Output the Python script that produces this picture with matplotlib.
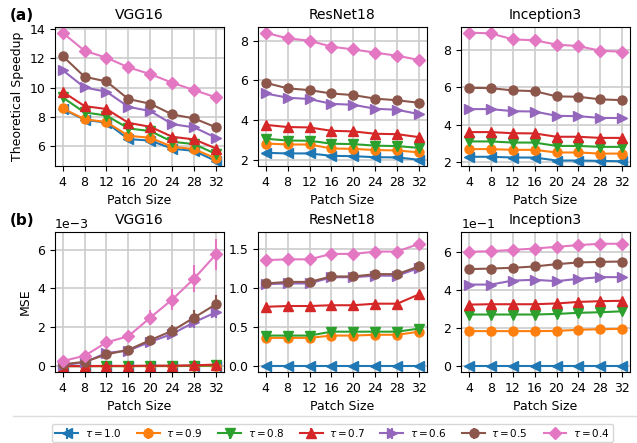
import matplotlib
matplotlib.use('Agg')
import matplotlib.pyplot as plt
import numpy as np
from matplotlib.lines import Line2D

# patch sizes and thresholds
patch = [4, 8, 12, 16, 20, 24, 28, 32]
taus = ['1.0', '0.9', '0.8', '0.7', '0.6', '0.5', '0.4']
markers = ['<', 'o', 'v', '^', '>', 'o', 'D']
colors = ['tab:blue', 'tab:orange', 'tab:green', 'tab:red', 'tab:purple', 'tab:brown', 'tab:pink']

# theoretical speedup
vgg_speed = [
    [8.55, 7.82, 7.62, 6.50, 6.40, 5.85, 5.70, 5.00],
    [8.59, 7.86, 7.66, 6.73, 6.59, 5.98, 5.82, 5.18],
    [9.34, 8.32, 8.11, 7.23, 7.05, 6.32, 6.16, 5.48],
    [9.73, 8.75, 8.55, 7.61, 7.34, 6.66, 6.48, 5.86],
    [11.2, 10.02, 9.73, 8.70, 8.41, 7.52, 7.30, 6.59],
    [12.16, 10.75, 10.43, 9.23, 8.91, 8.18, 7.91, 7.30],
    [13.75, 12.52, 12.05, 11.39, 10.93, 10.34, 9.84, 9.34],
]
resnet_speed = [
    [2.35, 2.32, 2.32, 2.20, 2.18, 2.13, 2.12, 2.00],
    [2.82, 2.77, 2.77, 2.57, 2.55, 2.49, 2.47, 2.37],
    [3.06, 2.97, 2.96, 2.81, 2.79, 2.71, 2.69, 2.60],
    [3.76, 3.65, 3.63, 3.46, 3.43, 3.31, 3.29, 3.14],
    [5.34, 5.13, 5.06, 4.82, 4.77, 4.57, 4.52, 4.30],
    [5.88, 5.60, 5.51, 5.34, 5.26, 5.08, 5.00, 4.87],
    [8.40, 8.12, 8.00, 7.70, 7.56, 7.40, 7.24, 7.03],
]
incep_speed = [
    [2.29, 2.29, 2.25, 2.25, 2.09, 2.09, 2.07, 2.05],
    [2.70, 2.70, 2.66, 2.66, 2.52, 2.52, 2.46, 2.46],
    [3.11, 3.11, 3.05, 3.05, 2.87, 2.87, 2.82, 2.82],
    [3.61, 3.61, 3.55, 3.54, 3.36, 3.36, 3.30, 3.30],
    [4.84, 4.84, 4.73, 4.71, 4.48, 4.46, 4.37, 4.36],
    [5.98, 5.96, 5.84, 5.80, 5.52, 5.50, 5.36, 5.32],
    [8.93, 8.89, 8.57, 8.52, 8.29, 8.21, 7.96, 7.91],
]

# MSE
vgg_mse = np.array([
    [0.0, 0.0, 0.0, 0.0, 0.0, 0.0, 0.0, 0.0],
    [0.0, 0.0, 0.0, 0.0, 0.0, 0.0, 0.01, 0.02],
    [0.0, 0.0, 0.0, 0.0, 0.01, 0.01, 0.02, 0.04],
    [0.0, 0.0, 0.01, 0.01, 0.02, 0.02, 0.04, 0.08],
    [0.05, 0.19, 0.68, 0.80, 1.25, 1.66, 2.26, 2.78],
    [0.09, 0.22, 0.60, 0.84, 1.34, 1.82, 2.50, 3.19],
    [0.26, 0.53, 1.22, 1.54, 2.50, 3.43, 4.51, 5.76],
]) * 1e-3
vgg_err = np.array([
    [0, 0, 0, 0, 0, 0, 0, 0],
    [0, 0, 0, 0, 0, 0, 0.01, 0.01],
    [0, 0, 0, 0, 0, 0.01, 0.01, 0.02],
    [0, 0, 0, 0.01, 0.01, 0.01, 0.02, 0.03],
    [0.03, 0.05, 0.1, 0.12, 0.18, 0.22, 0.3, 0.3],
    [0.03, 0.05, 0.08, 0.1, 0.18, 0.3, 0.4, 0.45],
    [0.05, 0.1, 0.2, 0.25, 0.4, 0.55, 0.7, 0.8],
]) * 1e-3
resnet_mse = [
    [0.0, 0.0, 0.0, 0.0, 0.0, 0.0, 0.0, 0.0],
    [0.36, 0.36, 0.36, 0.39, 0.39, 0.40, 0.40, 0.44],
    [0.39, 0.39, 0.39, 0.44, 0.44, 0.44, 0.44, 0.48],
    [0.76, 0.77, 0.77, 0.78, 0.78, 0.80, 0.80, 0.92],
    [1.05, 1.06, 1.06, 1.14, 1.14, 1.16, 1.16, 1.26],
    [1.06, 1.08, 1.08, 1.15, 1.15, 1.18, 1.18, 1.28],
    [1.36, 1.37, 1.37, 1.44, 1.44, 1.47, 1.47, 1.57],
]
incep_mse = np.array([
    [0.0, 0.0, 0.0, 0.0, 0.0, 0.0, 0.0, 0.0],
    [1.84, 1.84, 1.84, 1.84, 1.85, 1.91, 1.94, 1.96],
    [2.71, 2.71, 2.71, 2.71, 2.74, 2.80, 2.83, 2.88],
    [3.23, 3.25, 3.25, 3.25, 3.29, 3.37, 3.41, 3.43],
    [4.28, 4.28, 4.49, 4.53, 4.46, 4.58, 4.67, 4.67],
    [5.09, 5.12, 5.16, 5.23, 5.35, 5.44, 5.47, 5.49],
    [6.00, 6.03, 6.10, 6.17, 6.26, 6.35, 6.42, 6.42],
]) * 0.1

fig = plt.figure(figsize=(6.37, 4.43), dpi=100)

lefts = [0.0863, 0.405, 0.724]
w = 0.265
top_axes = [fig.add_axes([l, 0.625, w, 0.314]) for l in lefts]
bot_axes = [fig.add_axes([l, 0.160, w, 0.316]) for l in lefts]

titles = ['VGG16', 'ResNet18', 'Inception3']
speeds = [vgg_speed, resnet_speed, incep_speed]
mses = [vgg_mse, resnet_mse, incep_mse]
errs = [vgg_err, np.zeros((7, 8)), np.zeros((7, 8))]

handles = []
for j in range(3):
    ax = top_axes[j]
    for i in range(7):
        h = ax.errorbar(patch, speeds[j][i], yerr=np.zeros(8), marker=markers[i],
                        color=colors[i], ms=6.5, lw=1.5, label=r'$\tau=$' + taus[i])
        if j == 0:
            handles.append(h)
    ax2 = bot_axes[j]
    for i in range(7):
        ax2.errorbar(patch, mses[j][i], yerr=errs[j][i], marker=markers[i],
                     color=colors[i], ms=6.5, lw=1.5)

for ax in top_axes + bot_axes:
    ax.set_xticks(patch)
    ax.grid(True, color='#cccccc', lw=1.2)
    ax.set_axisbelow(True)
    ax.tick_params(labelsize=9)
    ax.set_xlabel('Patch Size', fontsize=9)
for j, ax in enumerate(top_axes + bot_axes):
    ax.set_title(titles[j % 3], fontsize=10)

top_axes[0].set_ylabel('Theoretical Speedup', fontsize=9)
bot_axes[0].set_ylabel('MSE', fontsize=9)
top_axes[0].set_ylim(4.66, 14.14)
top_axes[1].set_ylim(1.68, 8.69)
top_axes[2].set_ylim(1.79, 9.23)
bot_axes[0].set_ylim(-0.31e-3, 6.9e-3)
bot_axes[1].set_ylim(-0.08, 1.72)
bot_axes[2].set_ylim(-0.031, 0.703)
bot_axes[0].ticklabel_format(style='sci', scilimits=(0, 0), axis='y')
bot_axes[2].ticklabel_format(style='sci', scilimits=(0, 0), axis='y')
bot_axes[2].set_yticks([0, 0.2, 0.4, 0.6])
for ax in (bot_axes[0], bot_axes[2]):
    ax.yaxis.get_offset_text().set_fontsize(9)

fig.text(0.015, 0.966, '(a)', fontsize=11, fontweight='bold', va='center')
fig.text(0.015, 0.503, '(b)', fontsize=11, fontweight='bold', va='center')

fig.add_artist(Line2D([0.02, 1.0], [0.061, 0.061], color='#dddddd', lw=1))

fig.legend(handles=handles, loc='center', bbox_to_anchor=(0.522, 0.0226), ncol=7,
           fontsize=7.5, handlelength=2.2, columnspacing=1.5, borderpad=0.3,
           handletextpad=0.6)

fig.savefig('out.png', dpi=100)
